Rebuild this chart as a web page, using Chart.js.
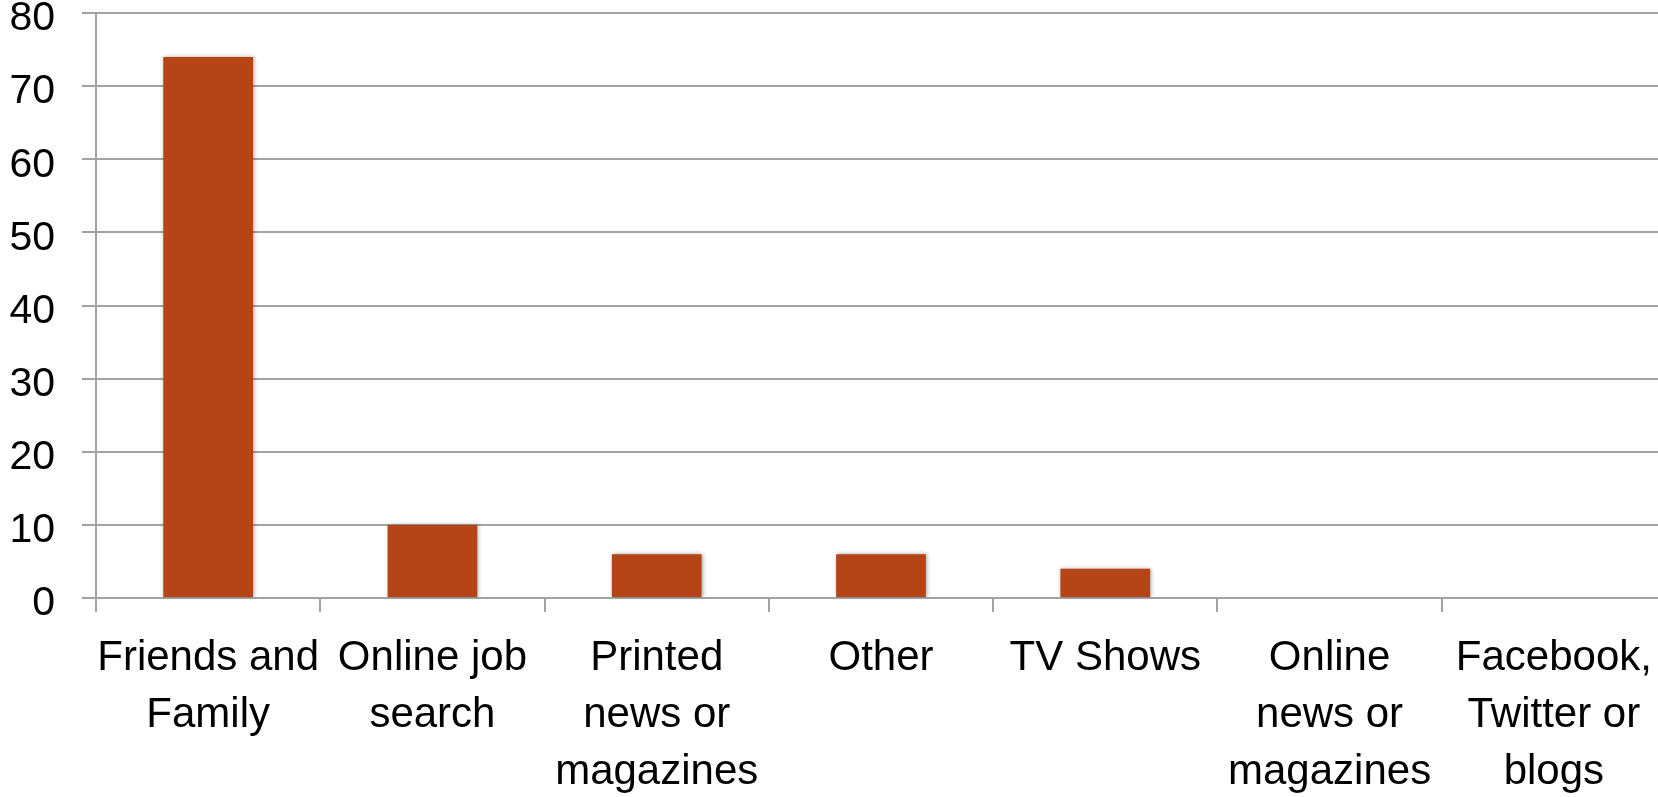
<!DOCTYPE html>
<html>
<head>
<meta charset="utf-8">
<script src="https://cdn.jsdelivr.net/npm/chart.js@4"></script>
<style>
  html, body { margin: 0; padding: 0; background: #fff; overflow: hidden; }
  #wrap { width: 1666px; height: 797px; position: relative; }
</style>
</head>
<body>
<div id="wrap"><canvas id="myChart"></canvas></div>
<script>
// categories (split on lines like the original)
const categorias = [
  ['Friends and', 'Family'],
  ['Online job', 'search'],
  ['Printed', 'news or', 'magazines'],
  ['Other'],
  ['TV Shows'],
  ['Online', 'news or', 'magazines'],
  ['Facebook,', 'Twitter or', 'blogs']
]
const valores = [74, 10, 6, 6, 4, 0, 0]
const yMin = 0
const yMax = 80
const yStep = 10

const ctx = document.getElementById('myChart')
const fuente = "'Liberation Sans', Arial, sans-serif"

// sombra suave de las barras
const sombra = {
  id: 'sombra',
  beforeDatasetsDraw(chart) {
    const c = chart.ctx
    c.save()
    c.shadowColor = 'rgba(0,0,0,0.35)'
    c.shadowBlur = 4
    c.shadowOffsetX = 1
    c.shadowOffsetY = 0
  },
  afterDatasetsDraw(chart) {
    chart.ctx.restore()
  }
}

new Chart(ctx, {
  type: 'bar',
  data: {
    labels: categorias,
    datasets: [{
      data: valores,
      backgroundColor: '#b54517',
      borderWidth: 0,
      barPercentage: 0.4,
      categoryPercentage: 1
    }]
  },
  options: {
    responsive: true,
    maintainAspectRatio: false,
    animation: false,
    layout: { padding: { top: 13, right: 0, left: 0, bottom: 0 } },
    plugins: {
      legend: { display: false },
      tooltip: { enabled: false }
    },
    scales: {
      x: {
        offset: true,
        grid: {
          offset: true,
          drawOnChartArea: false,
          drawTicks: true,
          tickLength: 14,
          color: '#a3a3a3',
          lineWidth: 2
        },
        border: { color: '#a3a3a3', width: 2 },
        ticks: {
          color: '#000',
          maxRotation: 0,
          autoSkip: false,
          padding: 18,
          font: { family: fuente, size: 42, lineHeight: 1.36 }
        },
        afterFit(scale) {
          scale.height = 797 - 598
          scale.paddingLeft = 0
          scale.paddingRight = 0
        }
      },
      y: {
        min: yMin,
        max: yMax,
        grid: {
          color: '#a3a3a3',
          lineWidth: 2,
          tickLength: 14
        },
        border: { color: '#a3a3a3', width: 2 },
        ticks: {
          stepSize: yStep,
          color: '#000',
          padding: 27,
          labelOffset: 6,
          font: { family: fuente, size: 41 }
        },
        afterFit(scale) {
          scale.width = 96
          scale.paddingTop = 0
          scale.paddingBottom = 0
        }
      }
    }
  },
  plugins: [sombra]
})
</script>
</body>
</html>
